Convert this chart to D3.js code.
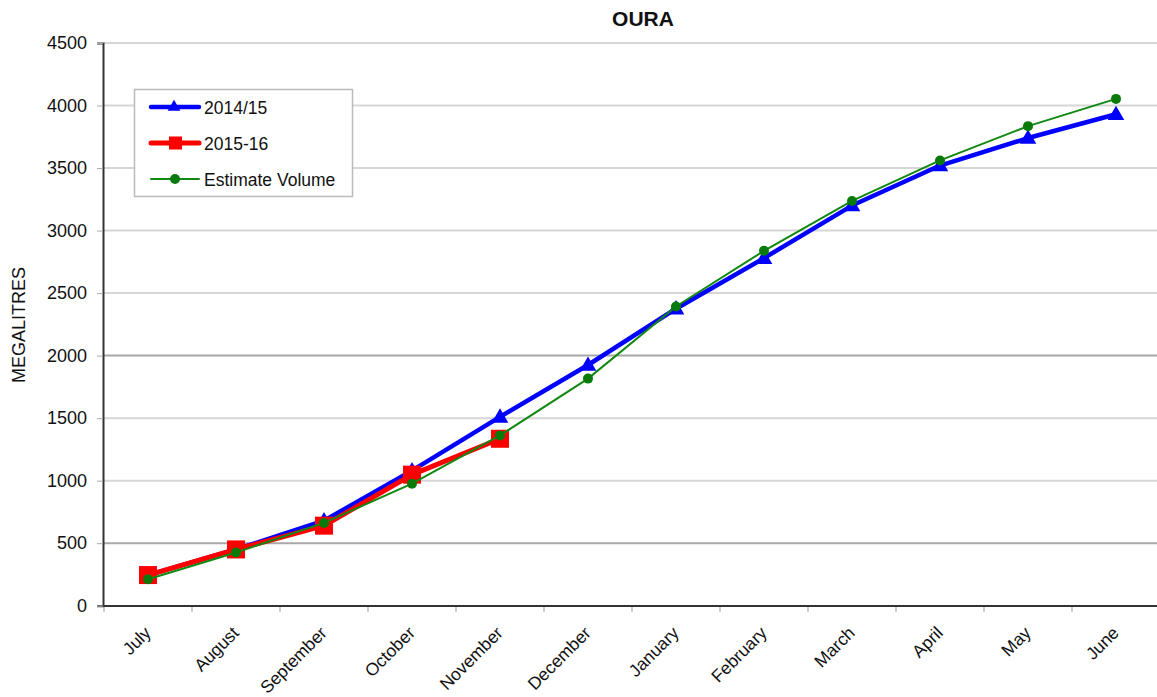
<!DOCTYPE html>
<html><head><meta charset="utf-8">
<script src="https://cdn.jsdelivr.net/npm/d3@7"></script>
<style>body{margin:0;background:#fff;}svg{display:block;font-family:Arial,"Liberation Sans",sans-serif;}</style>
</head><body>
<svg id="c" width="1157" height="697"></svg>
<script>
const months = ["July","August","September","October","November","December","January","February","March","April","May","June"];
const s1415 = [245,450,680,1080,1510,1925,2375,2780,3200,3520,3740,3930];
const s1516 = [245,450,640,1048,1335];
const sEst = [211,426,662,976,1362,1816,2393,2838,3237,3561,3835,4053];
const yTicks = [0,500,1000,1500,2000,2500,3000,3500,4000,4500];
const seriesNames = ["2014/15","2015-16","Estimate Volume"];

const FONT = "Arial,'Liberation Sans',sans-serif";
const svg = d3.select("#c");
const x = d3.scaleBand().domain(months).range([104,1160]);
const y = d3.scaleLinear().domain([0,4500]).range([605.7,43]);

// gridlines
svg.append("g").selectAll("line").data(yTicks.filter(d=>d>0)).join("line")
  .attr("x1",104).attr("x2",1157).attr("y1",d=>y(d)).attr("y2",d=>y(d))
  .attr("stroke",d=>(d===500||d===2000)?"#a8a8a8":"#d6d6d6").attr("stroke-width",2);

// y axis
const ya = svg.append("g").attr("transform","translate(103,0)")
  .call(d3.axisLeft(y).tickValues(yTicks).tickSize(6).tickPadding(10).tickFormat(d3.format("d")));
ya.select(".domain").attr("stroke","#333").attr("stroke-width",2);
ya.selectAll(".tick line").attr("stroke","#aaa");
ya.selectAll("text").attr("font-size",18).attr("fill","#111").attr("font-family",FONT);

// x axis
const xa = svg.append("g").attr("transform","translate(0,606)")
  .call(d3.axisBottom(x).tickSize(0).tickPadding(0));
xa.select(".domain").remove();
svg.append("line").attr("x1",103).attr("x2",1157).attr("y1",606).attr("y2",606).attr("stroke","#333").attr("stroke-width",2);
svg.append("g").selectAll("line").data(months).join("line")
  .attr("x1",d=>x(d)).attr("x2",d=>x(d)).attr("y1",607).attr("y2",612).attr("stroke","#999");
xa.selectAll("text")
  .attr("font-size",17.5).attr("fill","#111").attr("font-family",FONT)
  .attr("text-anchor","end").attr("dy",0).attr("y",0)
  .attr("transform","translate(4,28) rotate(-45)");

// title
svg.append("text").attr("x",643).attr("y",26).attr("text-anchor","middle")
  .attr("font-size",21).attr("font-weight","bold").attr("fill","#111").text("OURA");

// y label
svg.append("text").attr("transform","translate(25,325) rotate(-90)").attr("text-anchor","middle")
  .attr("font-size",18).attr("fill","#111").text("MEGALITRES");

const cx = i => x(months[i]) + x.bandwidth()/2;
const line = d3.line().x((d,i)=>cx(i)).y(d=>y(d));
const tri = d3.symbol().type(d3.symbolTriangle).size(120);

// blue
svg.append("path").datum(s1415).attr("d",line).attr("fill","none").attr("stroke","#0000ff").attr("stroke-width",4.5).attr("stroke-linejoin","round");
svg.append("g").selectAll("path").data(s1415).join("path")
  .attr("d",tri).attr("transform",(d,i)=>`translate(${cx(i)},${y(d)+1})`).attr("fill","#0000ff");
// red
svg.append("path").datum(s1516).attr("d",line).attr("fill","none").attr("stroke","#ff0000").attr("stroke-width",5).attr("stroke-linejoin","round");
svg.append("g").selectAll("rect").data(s1516).join("rect")
  .attr("x",(d,i)=>cx(i)-9).attr("y",d=>y(d)-9).attr("width",18).attr("height",18).attr("fill","#ff0000");
// green
svg.append("path").datum(sEst).attr("d",line).attr("fill","none").attr("stroke","#118811").attr("stroke-width",2);
svg.append("g").selectAll("circle").data(sEst).join("circle")
  .attr("cx",(d,i)=>cx(i)).attr("cy",d=>y(d)).attr("r",5).attr("fill","#0a7a0a");

// legend
const lg = svg.append("g");
lg.append("rect").attr("x",134.5).attr("y",89.5).attr("width",218).attr("height",107).attr("fill","#fff").attr("stroke","#bbb").attr("stroke-width",1.5);
const ly = [107,143,179];
const lcol = ["#0000ff","#ff0000","#118811"];
const lw = [4.5,5,2];
seriesNames.forEach((n,i)=>{
  lg.append("line").attr("x1",151).attr("x2",199).attr("y1",ly[i]).attr("y2",ly[i]).attr("stroke",lcol[i]).attr("stroke-width",lw[i]).attr("stroke-linecap","round");
  if(i===0) lg.append("path").attr("d",d3.symbol().type(d3.symbolTriangle).size(70)).attr("transform",`translate(174,${ly[i]})`).attr("fill",lcol[i]);
  if(i===1) lg.append("rect").attr("x",169).attr("y",ly[i]-6.5).attr("width",13).attr("height",13).attr("fill",lcol[i]);
  if(i===2) lg.append("circle").attr("cx",175).attr("cy",ly[i]).attr("r",5).attr("fill","#0a7a0a");
  lg.append("text").attr("x",204).attr("y",ly[i]+6.5).attr("font-size",17.5).attr("fill","#111").attr("font-family",FONT).text(n);
});
</script>
</body></html>
